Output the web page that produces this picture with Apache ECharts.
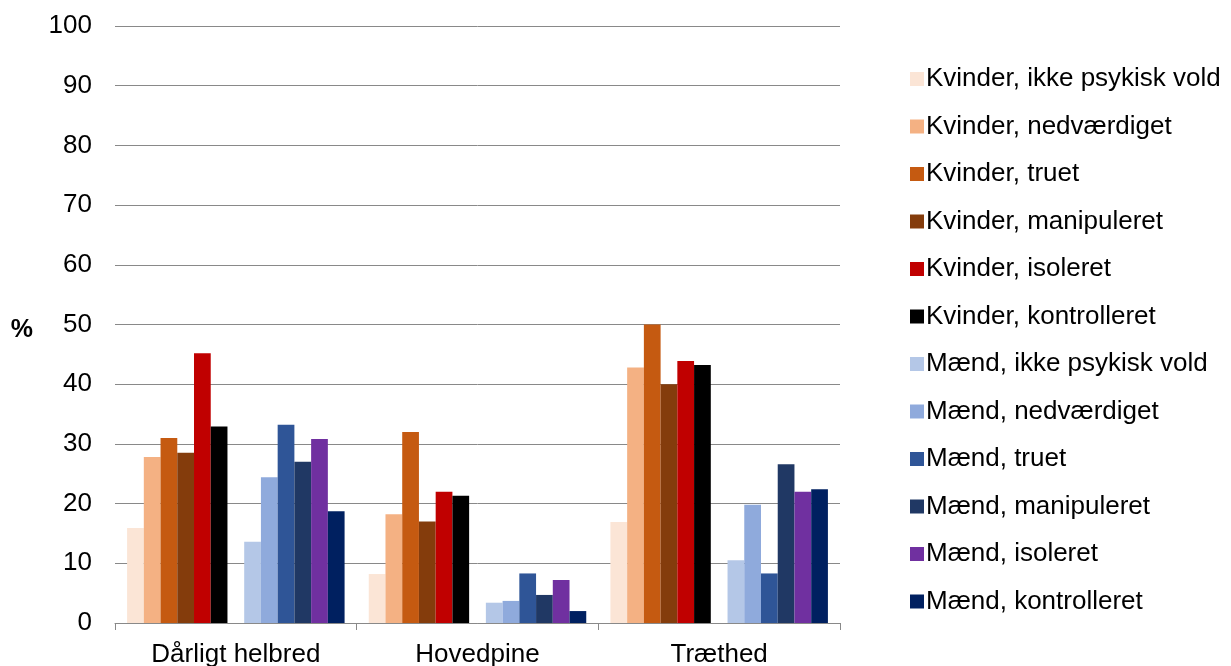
<!DOCTYPE html>
<html>
<head>
<meta charset="utf-8">
<script src="https://cdn.jsdelivr.net/npm/echarts@6/dist/echarts.min.js"></script>
<style>
  html, body { margin: 0; padding: 0; background: #fff; }
  #chart { width: 1231px; height: 666px; }
</style>
</head>
<body>
<div id="chart"></div>
<script>
var categories = ['Dårligt helbred', 'Hovedpine', 'Træthed'];

var seriesNames = [
  'Kvinder, ikke psykisk vold', 'Kvinder, nedværdiget', 'Kvinder, truet',
  'Kvinder, manipuleret', 'Kvinder, isoleret', 'Kvinder, kontrolleret',
  'Mænd, ikke psykisk vold', 'Mænd, nedværdiget', 'Mænd, truet',
  'Mænd, manipuleret', 'Mænd, isoleret', 'Mænd, kontrolleret'
];

var colors = [
  '#FBE5D6', '#F4B183', '#C55A11', '#843C0C', '#C00000', '#000000',
  '#B4C7E7', '#8FAADC', '#2F5597', '#203864', '#7030A0', '#002060'
];

// values per series: [Dårligt helbred, Hovedpine, Træthed]
var kvIkke   = [15.9, 8.2, 16.9];
var kvNedv   = [27.8, 18.2, 42.8];
var kvTruet  = [31.0, 32.0, 50.0];
var kvManip  = [28.5, 17.0, 40.0];
var kvIsol   = [45.2, 22.0, 43.9];
var kvKontr  = [32.9, 21.3, 43.2];
var maIkke   = [13.6, 3.4, 10.5];
var maNedv   = [24.4, 3.7, 19.8];
var maTruet  = [33.2, 8.3, 8.3];
var maManip  = [27.0, 4.7, 26.6];
var maIsol   = [30.8, 7.2, 22.0];
var maKontr  = [18.7, 2.0, 22.4];

var values = [kvIkke, kvNedv, kvTruet, kvManip, kvIsol, kvKontr,
              maIkke, maNedv, maTruet, maManip, maIsol, maKontr];

var font = '"Liberation Sans", Arial, sans-serif';

var series = [];
for (var i = 0; i < values.length; i++) {
  if (i === 6) {
    // empty spacer between women and men
    series.push({ name: 'spacer', type: 'bar', data: [null, null, null], barGap: 0, barCategoryGap: '10%' });
  }
  series.push({
    name: seriesNames[i],
    type: 'bar',
    data: values[i],
    barGap: 0,
    barCategoryGap: '10%',
    itemStyle: { color: colors[i] }
  });
}

var myChart = echarts.init(document.getElementById('chart'));

var option = {
  animation: false,
  textStyle: { fontFamily: font },
  grid: { left: 115, right: 391, top: 26, bottom: 43, outerBoundsMode: 'none', containLabel: false },
  legend: {
    data: seriesNames,
    orient: 'vertical',
    left: 905,
    top: 61,
    icon: 'rect',
    itemWidth: 14,
    itemHeight: 14,
    itemGap: 21.5,
    textStyle: { fontSize: 26, color: '#000', fontFamily: font, padding: [0, 0, 0, -3] }
  },
  xAxis: {
    type: 'category',
    data: categories,
    axisLine: { lineStyle: { color: '#898989', width: 1 } },
    axisTick: { show: true, length: 7, lineStyle: { color: '#898989' } },
    axisLabel: { fontSize: 26, color: '#000', margin: 19 }
  },
  yAxis: {
    type: 'value',
    min: 0,
    max: 100,
    interval: 10,
    name: '%',
    nameLocation: 'middle',
    nameRotate: 0,
    nameGap: 82,
    nameTextStyle: { fontSize: 25, fontWeight: 'bold', color: '#000', verticalAlign: 'top', lineHeight: 12 },
    axisLine: { show: false },
    axisTick: { show: false },
    axisLabel: { fontSize: 26, color: '#000', margin: 23 },
    splitLine: { lineStyle: { color: '#898989', width: 1 } }
  },
  series: series
};

myChart.setOption(option);
</script>
</body>
</html>
